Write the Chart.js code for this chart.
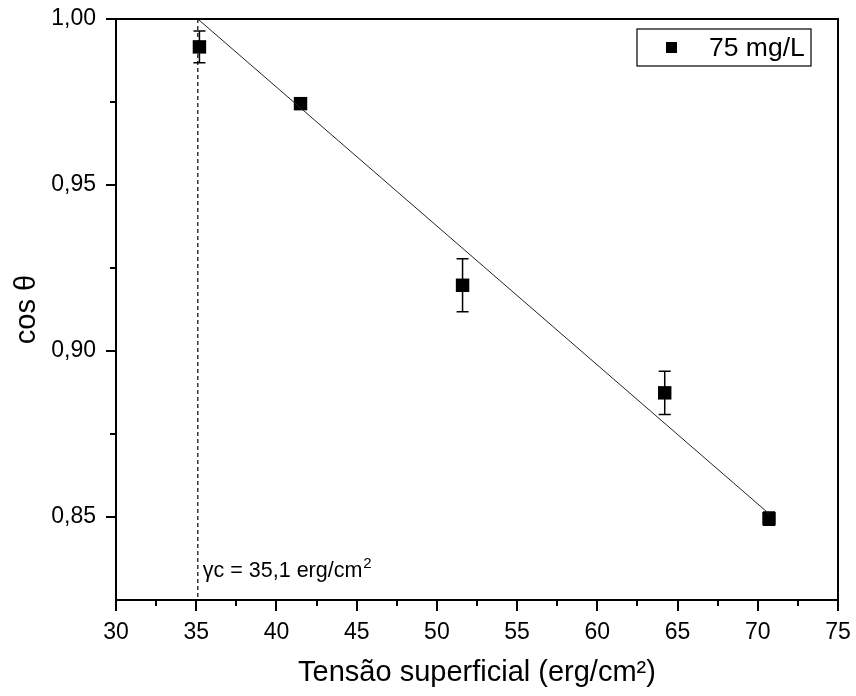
<!DOCTYPE html>
<html><head><meta charset="utf-8">
<script src="https://cdn.jsdelivr.net/npm/chart.js@4.4.1/dist/chart.umd.min.js"></script>
<style>html,body{margin:0;padding:0;background:#fff}#wrap{width:856px;height:696px}</style>
</head><body><div id="wrap"><canvas id="c" width="856" height="696"></canvas></div>
<script>
// ---- data ----
const tension = [35.2, 41.5, 51.6, 64.2, 70.7];
const cosTheta = [0.9916, 0.9745, 0.9198, 0.8874, 0.8495];
const cosErr = [0.0048, 0.0012, 0.0080, 0.0065, 0.0020];
const fitX = [35.1, 70.7];
const fitY = [1.000, 0.851];
const gammaC = 35.1;
const yRange = [0.825, 1.0];
const xRange = [30, 75];
const yTickValues = [0.85, 0.90, 0.95, 1.00];
const xMinorTicks = [32.5, 37.5, 42.5, 47.5, 52.5, 57.5, 62.5, 67.5, 72.5];
const yMinorTicks = [0.875, 0.925, 0.975];
const seriesLabel = '75 mg/L';
const xTitle = 'Tensão superficial (erg/cm²)';
const yTitle = 'cos θ';
const annotationText = 'γc = 35,1 erg/cm';
const annotationSup = '2';

const FONT = "'Liberation Sans', Arial, sans-serif";
Chart.defaults.font.family = FONT;
Chart.defaults.color = '#000';

const points = tension.map((x, i) => ({x, y: cosTheta[i]}));
const fitLine = fitX.map((x, i) => ({x, y: fitY[i]}));
const gammaLine = [{x: gammaC, y: yRange[1]}, {x: gammaC, y: yRange[0]}];

const decor = {
  id: 'decor',
  beforeDatasetsDraw(chart) {
    const {ctx, scales: {x, y}} = chart;
    ctx.save();
    ctx.strokeStyle = '#000';
    ctx.lineWidth = 1.5;
    cosErr.forEach((e, i) => {
      const px = x.getPixelForValue(tension[i]);
      const top = y.getPixelForValue(cosTheta[i] + e);
      const bot = y.getPixelForValue(cosTheta[i] - e);
      ctx.beginPath();
      ctx.moveTo(px, top); ctx.lineTo(px, bot);
      ctx.moveTo(px - 6, top); ctx.lineTo(px + 6, top);
      ctx.moveTo(px - 6, bot); ctx.lineTo(px + 6, bot);
      ctx.stroke();
    });
    ctx.restore();
  },
  afterDraw(chart) {
    const {ctx, chartArea: a, scales: {x, y}} = chart;
    ctx.save();
    ctx.strokeStyle = '#000';
    ctx.lineWidth = 2;
    ctx.beginPath();
    ctx.moveTo(a.left, a.top); ctx.lineTo(a.right, a.top); ctx.lineTo(a.right, a.bottom);
    ctx.stroke();
    ctx.lineWidth = 2;
    ctx.beginPath();
    xMinorTicks.forEach(v => { const p = Math.round(x.getPixelForValue(v)); ctx.moveTo(p, a.bottom); ctx.lineTo(p, a.bottom + 6); });
    yMinorTicks.forEach(v => { const p = Math.round(y.getPixelForValue(v)); ctx.moveTo(a.left - 6, p); ctx.lineTo(a.left, p); });
    ctx.stroke();
    // annotation
    const ax = x.getPixelForValue(gammaC) + 5;
    const ay = 577;
    ctx.fillStyle = '#000';
    ctx.font = '21.5px ' + FONT;
    ctx.textBaseline = 'alphabetic';
    ctx.textAlign = 'left';
    ctx.fillText(annotationText, ax, ay);
    const w = ctx.measureText(annotationText).width;
    ctx.font = '15px ' + FONT;
    ctx.fillText(annotationSup, ax + w + 1, ay - 9);
    // legend
    ctx.lineWidth = 1.2;
    ctx.strokeStyle = '#000';
    ctx.strokeRect(637, 29, 174, 37);
    ctx.fillRect(666, 42, 11, 11);
    ctx.font = '26.5px ' + FONT;
    ctx.fillText(seriesLabel, 709, 56);
    ctx.restore();
  }
};

new Chart(document.getElementById('c'), {
  data: {
    datasets: [
      {type: 'line', label: 'gamma', data: gammaLine, borderColor: '#000', borderWidth: 1.2, borderDash: [4, 3], pointRadius: 0, fill: false},
      {type: 'line', label: 'fit', data: fitLine, borderColor: '#222', borderWidth: 1, pointRadius: 0, fill: false},
      {type: 'scatter', label: seriesLabel, data: points, pointStyle: 'rect', pointRadius: 9.5, backgroundColor: '#000', borderColor: '#000', borderWidth: 0}
    ]
  },
  options: {
    responsive: false,
    animation: false,
    layout: {padding: {left: 0, right: 18, top: 19, bottom: 0}},
    plugins: {legend: {display: false}, tooltip: {enabled: false}},
    scales: {
      x: {
        type: 'linear', min: xRange[0], max: xRange[1],
        afterFit(s) { s.height = 96; s.paddingLeft = 0; s.paddingRight = 0; },
        ticks: {stepSize: 5, font: {size: 23}, padding: 8, callback: v => String(v)},
        grid: {drawOnChartArea: false, drawTicks: true, tickLength: 11, color: '#000', lineWidth: 2},
        border: {display: true, color: '#000', width: 2},
        title: {display: true, text: xTitle, font: {size: 29}, padding: {bottom: 6, top: 0}}
      },
      y: {
        type: 'linear', min: yRange[0], max: yRange[1],
        afterFit(s) { s.width = 116; s.paddingTop = 0; s.paddingBottom = 0; },
        afterBuildTicks(s) { s.ticks = yTickValues.map(v => ({value: v})); },
        ticks: {font: {size: 23}, padding: 10, callback: v => Number(v).toFixed(2).replace('.', ',')},
        grid: {drawOnChartArea: false, drawTicks: true, tickLength: 10, color: '#000', lineWidth: 2},
        border: {display: true, color: '#000', width: 2},
        title: {display: true, text: yTitle, font: {size: 29}, padding: {top: 10, bottom: 0}}
      }
    }
  },
  plugins: [decor]
});
</script></body></html>
